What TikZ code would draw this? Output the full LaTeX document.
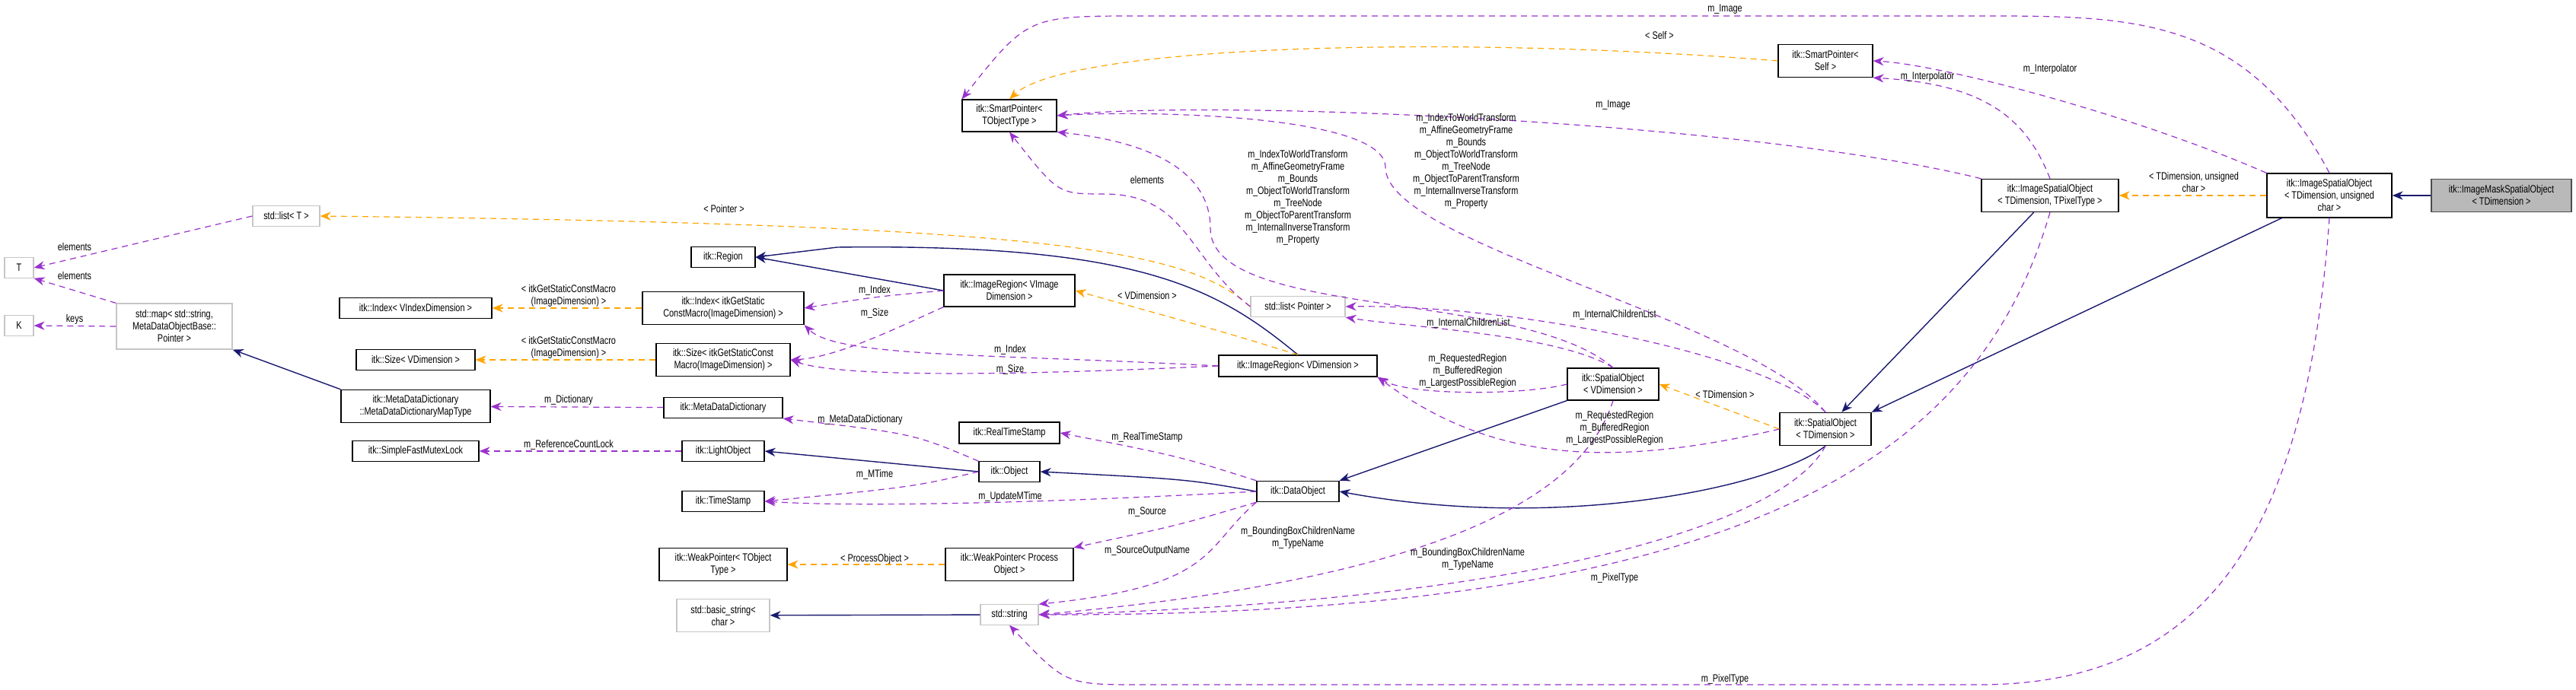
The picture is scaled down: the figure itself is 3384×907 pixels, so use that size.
\documentclass[tikz,border=0pt]{standalone}
\usepackage{fontspec}
\setmainfont{Liberation Sans}[FakeStretch=0.78]
\usetikzlibrary{arrows.meta}
\definecolor{usecol}{RGB}{153,50,204}
\definecolor{tplcol}{RGB}{255,165,0}
\definecolor{inhcol}{RGB}{25,25,112}
\tikzset{
  box/.style={draw=black, line width=0.3pt, fill=white, inner sep=1pt, align=center, font=\fontsize{3.5}{4}\selectfont},
  gbox/.style={box, draw=gray!45},
  mbox/.style={box, fill=gray!55, draw=black!70},
  lbl/.style={inner sep=0pt, align=center, font=\fontsize{3.5}{4}\selectfont},
  use/.style={usecol, dashed, dash pattern=on 2pt off 1.5pt, line width=0.3pt, -{Stealth[length=3.5pt,width=2.8pt]}},
  tpl/.style={use, tplcol},
  inh/.style={inhcol, line width=0.35pt, -{Stealth[length=3.5pt,width=2.8pt]}}
}
\begin{document}
\begin{tikzpicture}[x=0.25pt,y=-0.25pt]
\useasboundingbox (0,0) rectangle (3384,907);

% classes
\node[mbox, minimum width=46pt, minimum height=10.8pt] (mask) at (3286,257) {itk::ImageMaskSpatialObject\\< TDimension >};
\node[box, minimum width=41pt, minimum height=14.5pt] (isouc) at (3060,257) {itk::ImageSpatialObject\\< TDimension, unsigned\\char >};
\node[box, minimum width=45pt, minimum height=10.8pt] (isopt) at (2693,257) {itk::ImageSpatialObject\\< TDimension, TPixelType >};
\node[box, minimum width=31pt, minimum height=10.8pt] (spself) at (2398,80) {itk::SmartPointer<\\Self >};
\node[box, minimum width=30pt, minimum height=10.8pt] (so) at (2398,564) {itk::SpatialObject\\< TDimension >};
\node[box, minimum width=30pt, minimum height=10.5pt] (sov) at (2119,505) {itk::SpatialObject\\< VDimension >};
\node[box, minimum width=31pt, minimum height=10.5pt] (spT) at (1326,152) {itk::SmartPointer<\\TObjectType >};
\node[box, minimum width=43pt, minimum height=10.5pt] (irvi) at (1326,382) {itk::ImageRegion< VImage\\Dimension >};
\node[gbox, minimum width=31pt, minimum height=6.8pt] (listP) at (1705,403) {std::list< Pointer >};
\node[box, minimum width=52pt, minimum height=7pt] (irv) at (1705,481) {itk::ImageRegion< VDimension >};
\node[box, minimum width=33pt, minimum height=7pt] (rts) at (1326,569) {itk::RealTimeStamp};
\node[box, minimum width=20pt, minimum height=6.6pt] (obj) at (1326,620) {itk::Object};
\node[box, minimum width=27pt, minimum height=6.8pt] (dobj) at (1705,646) {itk::DataObject};
\node[box, minimum width=42pt, minimum height=10.8pt] (weakP) at (1326,742) {itk::WeakPointer< Process\\Object >};
\node[gbox, minimum width=19pt, minimum height=6.6pt] (str) at (1326,808) {std::string};
\node[gbox, minimum width=22pt, minimum height=6.8pt] (listT) at (376,284) {std::list< T >};
\node[gbox, minimum width=9.5pt, minimum height=6.6pt] (T) at (25,352) {T};
\node[gbox, minimum width=9.5pt, minimum height=6.6pt] (K) at (25,428) {K};
\node[gbox, minimum width=38pt, minimum height=15pt] (map) at (229,429) {std::map< std::string,\\MetaDataObjectBase::\\Pointer >};
\node[box, minimum width=21pt, minimum height=6.8pt] (region) at (950,338) {itk::Region};
\node[box, minimum width=50pt, minimum height=6.6pt] (indexV) at (546,405) {itk::Index< VIndexDimension >};
\node[box, minimum width=53pt, minimum height=10.8pt] (indexG) at (950,405) {itk::Index< itkGetStatic\\ConstMacro(ImageDimension) >};
\node[box, minimum width=39pt, minimum height=6.8pt] (sizeV) at (546,473) {itk::Size< VDimension >};
\node[box, minimum width=44pt, minimum height=10.8pt] (sizeG) at (950,473) {itk::Size< itkGetStaticConst\\Macro(ImageDimension) >};
\node[box, minimum width=49pt, minimum height=10.8pt] (mapt) at (546,534) {itk::MetaDataDictionary\\::MetaDataDictionaryMapType};
\node[box, minimum width=39pt, minimum height=6.8pt] (mdd) at (950,536) {itk::MetaDataDictionary};
\node[box, minimum width=41.5pt, minimum height=6.8pt] (mutex) at (546,593) {itk::SimpleFastMutexLock};
\node[box, minimum width=27pt, minimum height=6.8pt] (light) at (950,593) {itk::LightObject};
\node[box, minimum width=27pt, minimum height=6.8pt] (ts) at (950,659) {itk::TimeStamp};
\node[box, minimum width=42pt, minimum height=10.8pt] (weakT) at (950,742) {itk::WeakPointer< TObject\\Type >};
\node[gbox, minimum width=30.5pt, minimum height=10.8pt] (bstr) at (950,809) {std::basic\_string<\\char >};

% inheritance
\draw[inh] (mask) -- (isouc);
\draw[inh] (isouc) -- (so.north east);
\draw[inh] (isopt) -- (so);
\draw[inh] (so.south) .. controls (2330,640) and (2050,700) .. (dobj.east);
\draw[inh] (sov.south west) -- (dobj.north east);
\draw[inh] (dobj.west) .. controls (1560,630) .. (obj.east);
\draw[inh] (obj.west) -- (light.east);
\draw[inh] (mapt.north west) -- (map.south east);
\draw[inh] (str) -- (bstr);
\draw[inh] (irvi.west) -- (region.east);
\draw[inh] (irv.north) .. controls (1600,380) and (1500,320) .. (1100,325) -- (region.east);

% templates
\draw[tpl] (isouc) -- (isopt);
\draw[tpl] (spself.west) .. controls (1900,45) and (1400,60) .. (spT.north);
\draw[tpl] (listP.west) .. controls (1560,330) and (1400,295) .. (listT.east);
\draw[tpl] (irv.north) .. controls (1620,440) .. (irvi.east);
\draw[tpl] (so.west) -- (sov.east);
\draw[tpl] (indexG) -- (indexV);
\draw[tpl] (sizeG) -- (sizeV);
\draw[tpl] (weakP) -- (weakT);
\node[lbl] (l1) at (2882,240) {< TDimension, unsigned\\char >};
\node[lbl] (l2) at (2180,47) {< Self >};
\node[lbl] (l3) at (951,275) {< Pointer >};
\node[lbl] (l4) at (1507,389) {< VDimension >};
\node[lbl] (l5) at (2266,519) {< TDimension >};
\node[lbl] (l6) at (747,389) {< itkGetStaticConstMacro\\(ImageDimension) >};
\node[lbl] (l7) at (747,457) {< itkGetStaticConstMacro\\(ImageDimension) >};
\node[lbl] (l8) at (1149,735) {< ProcessObject >};

% members
\draw[use] (listT.west) -- (T.east);
\draw[use] (map.north west) -- (T.south east);
\draw[use] (map.west) -- (K.east);
\draw[use] (mdd) -- (mapt);
\draw[use] (light) -- (mutex);
\draw[use] (obj.north west) .. controls (1200,570) .. (mdd.south east);
\draw[use] (obj.west) .. controls (1200,640) .. (ts.east);
\draw[use] (dobj.west) .. controls (1300,665) and (1100,665) .. (ts.east);
\draw[use] (dobj.north west) .. controls (1550,600) .. (rts.east);
\draw[use] (dobj.south west) .. controls (1550,690) .. (weakP.north east);
\draw[use] (dobj.south west) .. controls (1580,720) and (1600,770) .. (str.north east);
\draw[use] (irvi.west) .. controls (1150,390) .. (indexG.east);
\draw[use] (irvi.south west) .. controls (1180,430) and (1100,470) .. (sizeG.east);
\draw[use] (irv.west) .. controls (1300,465) and (1100,470) .. (indexG.south east);
\draw[use] (irv.west) .. controls (1300,495) and (1100,495) .. (sizeG.east);
\draw[use] (listP.west) .. controls (1560,340) and (1560,255) .. (1450,255) .. controls (1390,255) .. (spT.south);
\draw[use] (sov.north) .. controls (2000,380) and (1590,420) .. (1590,300) .. controls (1590,200) and (1450,180) .. (spT.south east);
\draw[use] (so.north) .. controls (2300,420) and (1820,320) .. (1820,220) .. controls (1820,150) and (1500,145) .. (spT.east);
\draw[use] (isopt.north west) .. controls (2300,160) and (1600,130) .. (spT.east);
\draw[use] (sov.north) .. controls (2050,440) and (1850,430) .. (listP.south east);
\draw[use] (so.north) .. controls (2330,470) and (2000,400) .. (listP.east);
\draw[use] (sov.west) .. controls (2000,520) and (1850,520) .. (irv.south east);
\draw[use] (so.west) .. controls (2100,620) and (1950,600) .. (irv.south east);
\draw[use] (sov.south) .. controls (2080,650) and (1900,760) .. (str.east);
\draw[use] (so.south) .. controls (2350,680) and (2050,790) .. (str.east);
\draw[use] (isopt.south) .. controls (2600,600) and (2300,810) .. (str.east);
\draw[use] (isouc.south) .. controls (3030,700) and (2900,900) .. (2600,900) -- (1500,900) .. controls (1400,900) .. (str.south);
\draw[use] (isouc.north) .. controls (2950,20) and (2800,21) .. (2600,21) -- (1500,21) .. controls (1350,21) .. (spT.north west);
\draw[use] (isouc.north west) .. controls (2800,150) and (2550,85) .. (spself.east);
\draw[use] (isopt.north) .. controls (2660,150) and (2600,110) .. (spself.south east);

% member labels
\node[lbl] (m1) at (98,325) {elements};
\node[lbl] (m2) at (98,363) {elements};
\node[lbl] (m3) at (98,420) {keys};
\node[lbl] (m4) at (747,526) {m\_Dictionary};
\node[lbl] (m5) at (747,585) {m\_ReferenceCountLock};
\node[lbl] (m6) at (1130,552) {m\_MetaDataDictionary};
\node[lbl] (m7) at (1149,624) {m\_MTime};
\node[lbl] (m8) at (1327,653) {m\_UpdateMTime};
\node[lbl] (m9) at (1507,575) {m\_RealTimeStamp};
\node[lbl] (m10) at (1507,673) {m\_Source};
\node[lbl] (m11) at (1507,724) {m\_SourceOutputName};
\node[lbl] (m12) at (1149,382) {m\_Index};
\node[lbl] (m13) at (1149,412) {m\_Size};
\node[lbl] (m14) at (1327,460) {m\_Index};
\node[lbl] (m15) at (1327,486) {m\_Size};
\node[lbl] (m16) at (1507,237) {elements};
\node[lbl] (m17) at (1705,260) {m\_IndexToWorldTransform\\m\_AffineGeometryFrame\\m\_Bounds\\m\_ObjectToWorldTransform\\m\_TreeNode\\m\_ObjectToParentTransform\\m\_InternalInverseTransform\\m\_Property};
\node[lbl] (m18) at (1926,212) {m\_IndexToWorldTransform\\m\_AffineGeometryFrame\\m\_Bounds\\m\_ObjectToWorldTransform\\m\_TreeNode\\m\_ObjectToParentTransform\\m\_InternalInverseTransform\\m\_Property};
\node[lbl] (m19) at (2119,138) {m\_Image};
\node[lbl] (m20) at (2266,12) {m\_Image};
\node[lbl] (m21) at (2532,101) {m\_Interpolator};
\node[lbl] (m22) at (2693,91) {m\_Interpolator};
\node[lbl] (m23) at (1929,425) {m\_InternalChildrenList};
\node[lbl] (m24) at (2121,414) {m\_InternalChildrenList};
\node[lbl] (m25) at (1928,488) {m\_RequestedRegion\\m\_BufferedRegion\\m\_LargestPossibleRegion};
\node[lbl] (m26) at (2121,563) {m\_RequestedRegion\\m\_BufferedRegion\\m\_LargestPossibleRegion};
\node[lbl] (m27) at (1705,707) {m\_BoundingBoxChildrenName\\m\_TypeName};
\node[lbl] (m28) at (1928,735) {m\_BoundingBoxChildrenName\\m\_TypeName};
\node[lbl] (m29) at (2121,760) {m\_PixelType};
\node[lbl] (m30) at (2266,893) {m\_PixelType};
\end{tikzpicture}
\end{document}
